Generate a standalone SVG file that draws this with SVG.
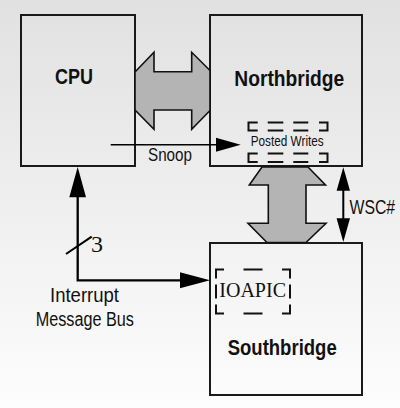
<svg xmlns="http://www.w3.org/2000/svg" width="400" height="408" viewBox="0 0 400 408">
<style>
.box{stroke:#1a1a1a;stroke-width:2;fill:url(#bg)}
.bus{fill:#b4b4b4;stroke:#111;stroke-width:1.6;stroke-linejoin:miter}
.ln{stroke:#000;fill:none}
.ah{fill:#000;stroke:none}
.dash{stroke:#111;fill:none;stroke-width:2}
.t{font-family:"Liberation Sans Narrow","Liberation Sans",Arial,sans-serif;fill:#111}
.b{font-weight:bold;font-size:21.5px}
.s{font-family:"Liberation Serif","Times New Roman",serif;fill:#111}
</style>
<defs>
<linearGradient id="bg" gradientUnits="userSpaceOnUse" x1="0" y1="0" x2="0" y2="408">
<stop offset="0" stop-color="#e1e1e1"/>
<stop offset="1" stop-color="#fdfdfd"/>
</linearGradient>
</defs>
<rect x="0" y="0" width="400" height="408" fill="url(#bg)"/>

<g id="cpu">
<rect class="box" x="21" y="15" width="114" height="151"/>
<text class="t b" x="55" y="84" textLength="38" lengthAdjust="spacingAndGlyphs" font-size="22">CPU</text>
</g>

<g id="northbridge">
<rect class="box" x="210" y="15" width="152" height="151"/>
<text class="t b" x="234.3" y="86" textLength="110" lengthAdjust="spacingAndGlyphs">Northbridge</text>
<g id="posted-writes">
<path class="dash" d="M257.7,122.5H248.5V130.5H257.7 M267.7,122.5H283.3 M267.7,130.5H283.3 M293.3,122.5H308.3 M293.3,130.5H308.3 M319,122.5H327.5V130.5H319"/>
<path class="dash" d="M257.7,153.5H248.5V162H257.7 M267.7,153.5H283.3 M267.7,162H283.3 M293.3,153.5H308.3 M293.3,162H308.3 M319,153.5H327.5V162H319"/>
<text class="t" x="250.7" y="145.7" font-size="14" textLength="73" lengthAdjust="spacingAndGlyphs">Posted Writes</text>
</g>
</g>

<g id="southbridge">
<rect class="box" x="210" y="243" width="152" height="152"/>
<text class="t b" x="227.7" y="355" textLength="109" lengthAdjust="spacingAndGlyphs">Southbridge</text>
<g id="ioapic">
<path class="dash" stroke-width="2.6" d="M224,269.5H216V278.5 M243.5,269.5H262.5 M282,269.5H290V278.5 M216,284.5V298.5 M290,284.5V298.5 M216,304.5V313.5H224 M243.5,313.5H262.5 M290,304.5V313.5H282"/>
<text class="s" x="219.3" y="297.3" font-size="20" textLength="66.7" lengthAdjust="spacingAndGlyphs">IOAPIC</text>
</g>
</g>

<g id="connectors">
<polygon id="fsb" class="bus" points="135,72 154,52.3 154,71.7 191.7,71.7 191.7,52.3 210,70.5 210,110.5 191.7,129.3 191.7,110 154,110 154,129.3 135,110"/>
<polygon id="hub" class="bus" points="262,167 308,167 325.5,185 306,185 306,223.3 326,223.3 306,242.5 267,242.5 248,223.3 268.3,223.3 268.3,185 249.3,185"/>
<g id="snoop">
<line class="ln" stroke-width="1.5" x1="110.7" y1="144.7" x2="218" y2="144.7"/>
<polygon class="ah" points="240.7,144.7 216,137.7 216,151.7"/>
<text class="t" x="148" y="160.7" font-size="17.5" textLength="44" lengthAdjust="spacingAndGlyphs">Snoop</text>
</g>
<g id="interrupt-bus">
<polyline class="ln" stroke-width="2.3" points="77.7,195 77.7,280.3 182,280.3"/>
<polygon class="ah" points="77.7,167 69.3,197.3 86,197.3"/>
<polygon class="ah" points="210,280.3 180,272.3 180,288.3"/>
<line class="ln" stroke-width="2" x1="66" y1="254" x2="91.7" y2="236.7"/>
<text class="s" x="91" y="251.7" font-size="24">3</text>
<text class="t" x="50" y="301.7" font-size="19.5" textLength="69" lengthAdjust="spacingAndGlyphs">Interrupt</text>
<text class="t" x="35.7" y="325.7" font-size="19.5" textLength="98.3" lengthAdjust="spacingAndGlyphs">Message Bus</text>
</g>
<g id="wsc">
<line class="ln" stroke-width="2" x1="343.3" y1="188" x2="343.3" y2="221"/>
<polygon class="ah" points="343.3,167.3 336.6,190.7 350,190.7"/>
<polygon class="ah" points="343.3,242 336.6,218.3 350,218.3"/>
<text class="t" font-size="19.5" transform="translate(349.5,214) scale(0.81,1)">WSC#</text>
</g>
</g>
</svg>
